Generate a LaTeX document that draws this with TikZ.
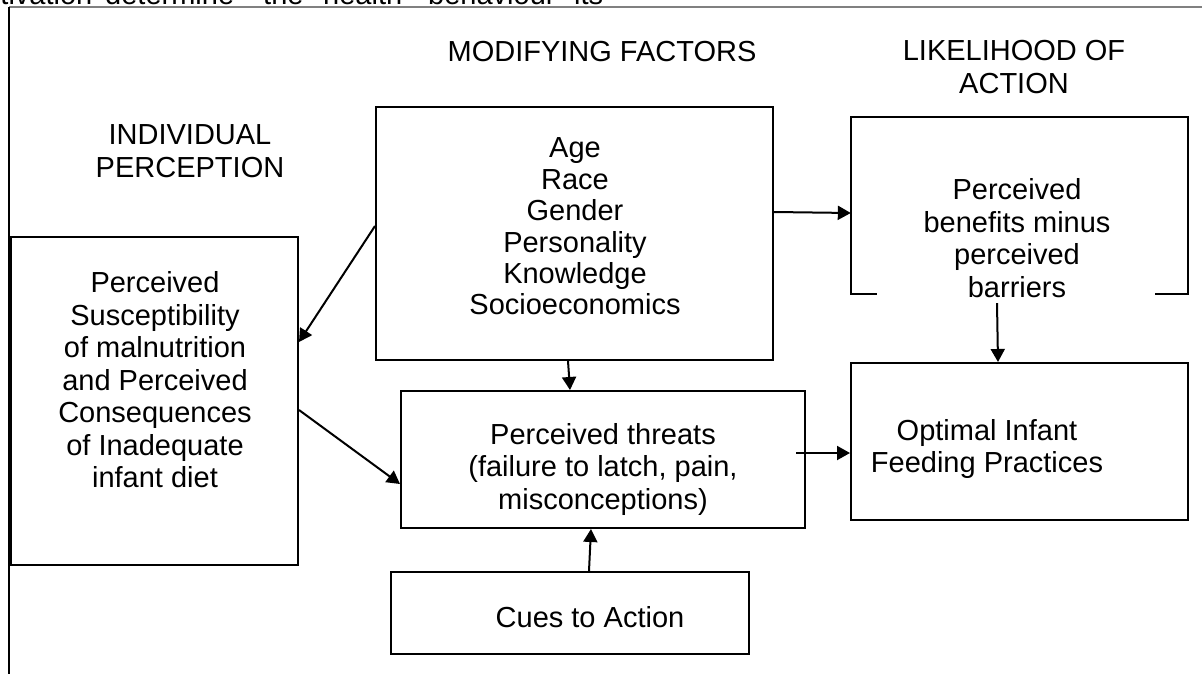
\documentclass[tikz,border=0pt]{standalone}
\usepackage{fontspec}
\setmainfont{Liberation Sans}
\usetikzlibrary{arrows.meta}
\tikzset{
  boxline/.style={line width=2pt, draw=black},
  box/.style={boxline, rectangle, inner sep=0pt},
  txt/.style={align=center, inner sep=0pt, font=\fontsize{29}{32.5}\selectfont},
  txtm/.style={align=center, inner sep=0pt, font=\fontsize{29}{31.4}\selectfont},
  frag/.style={anchor=base west, inner sep=0pt, font=\fontsize{29}{32}\selectfont},
  arr/.style={line width=2pt, -{Triangle[length=13pt,width=14pt]}}
}
\begin{document}
\begin{tikzpicture}[x=1pt,y=-1pt]
\useasboundingbox (0,0) rectangle (1202,674);
\begin{scope}
\clip (0,0) rectangle (1202,674);
\node[frag] (f1) at (-40,5) {motivation};
\node[frag] (f2) at (105,5) {determine};
\node[frag] (f3) at (263,5) {the};
\node[frag] (f4) at (323,5) {health};
\node[frag] (f5) at (428,5) {behaviour};
\node[frag] (f6) at (574,5) {its};
\end{scope}
% frame lines
\draw[line width=2pt, draw=gray] (9,7) -- (1202,7);
\draw[line width=2.5pt] (9,7) -- (9,674);
% headings
\node[txt] (h1) at (190,151) {INDIVIDUAL\\PERCEPTION};
\node[txt] (h2) at (602,52) {MODIFYING FACTORS};
\node[txt] (h3) at (1014,67) {LIKELIHOOD OF\\ACTION};
% boxes
\node[box, minimum width=287pt, minimum height=328pt] (left) at (154.5,401) {};
\node[box, minimum width=397pt, minimum height=253pt] (mod) at (574.5,233.5) {};
\node[box, minimum width=404pt, minimum height=137pt] (threats) at (603,459.5) {};
\node[box, minimum width=358pt, minimum height=82pt] (cues) at (570,613) {};
\node[rectangle, inner sep=0pt, minimum width=337pt, minimum height=177pt] (brk) at (1019.5,205.5) {};
\node[box, minimum width=337pt, minimum height=157pt] (opt) at (1019.5,441.5) {};
\draw[boxline] ([xshift=26pt]brk.south west) -- (brk.south west) -- (brk.north west)
  -- (brk.north east) -- (brk.south east) -- ([xshift=-33pt]brk.south east);
% texts
\node[txt] (tleft) at (155,380) {Perceived\\Susceptibility\\of malnutrition\\and Perceived\\Consequences\\of Inadequate\\infant diet};
\node[txtm] (tmod) at (575,226.5) {Age\\Race\\Gender\\Personality\\Knowledge\\Socioeconomics};
\node[txt] (tthr) at (603,469) {Perceived threats\\(failure to latch, pain,\\misconceptions)};
\node[txt] (tcues) at (590,617) {Cues to Action};
\node[txt] (tbrk) at (1017,238) {Perceived\\benefits minus\\perceived\\barriers};
\node[txt] (topt) at (987,449) {Optimal Infant\\Feeding Practices};
% arrows
\draw[arr] ([yshift=7.5pt]mod.west) -- ([yshift=59pt]left.east);
\draw[arr] ([yshift=-9pt]left.east) -- ([yshift=-24.5pt]threats.west);
\draw[arr] ([xshift=-6.5pt]mod.south) -- ([xshift=-33pt]threats.north);
\draw[arr] ([xshift=19pt]cues.north) -- ([xshift=-12pt]threats.south);
\draw[arr] ([yshift=21.5pt]mod.east) -- ([yshift=-7.5pt]brk.west);
\draw[arr] ([xshift=-22.5pt,yshift=-9pt]brk.south) -- ([xshift=-21.5pt]opt.north);
\draw[arr] ([xshift=-10pt,yshift=6.5pt]threats.east) -- ([yshift=-11.5pt]opt.west);
\end{tikzpicture}
\end{document}
